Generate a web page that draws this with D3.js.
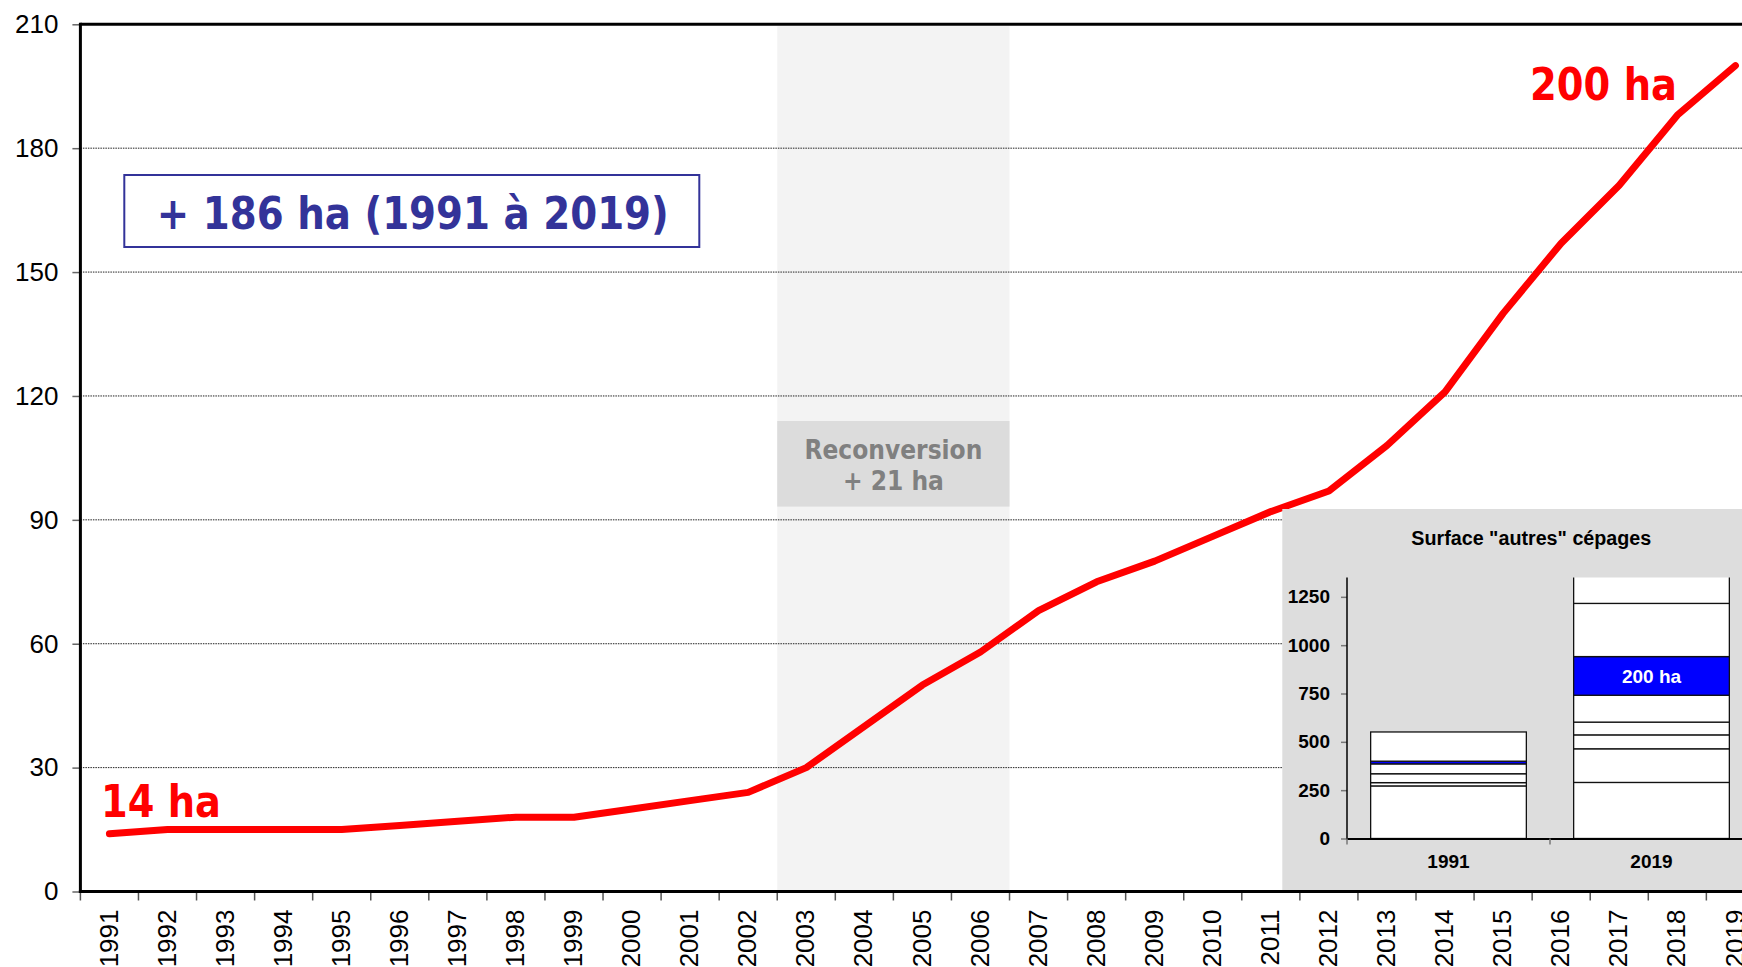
<!DOCTYPE html>
<html><head><meta charset="utf-8">
<script src="https://cdn.jsdelivr.net/npm/d3@7"></script>
<style>body{margin:0;background:#fff;overflow:hidden} svg{display:block}</style>
</head><body>
<svg id="c" width="1742" height="967"></svg>
<script>
// ---------- data ----------
const years = [1991,1992,1993,1994,1995,1996,1997,1998,1999,2000,2001,2002,2003,2004,2005,2006,2007,2008,2009,2010,2011,2012,2013,2014,2015,2016,2017,2018,2019];
const surface = [14,15,15,15,15,16,17,18,18,20,22,24,30,40,50,58,68,75,80,86,92,97,108,121,140,157,171,188,200];
const yTicks = [0,30,60,90,120,150,180,210];
const gridTicks = [30,60,90,120,150,180];
const reconversionYears = [2003,2006];
const startLabel = "14 ha";
const endLabel = "200 ha";
const totalLabel = "+ 186 ha (1991 à 2019)";
const reconvLabel = ["Reconversion", "+ 21 ha"];

const insetTitle = 'Surface "autres" cépages';
const insetCats = ["1991","2019"];
const insetSeg1991 = [272,17,46,51,14,151];
const insetSeg2019 = [290,174,72,66,139,200,275,184];
const insetBlueIndex = [4,5];
const insetTicks = [0,250,500,750,1000,1250];
const insetBlueLabel = "200 ha";

// ---------- layout ----------
const W = 1742, H = 967;
const pLeft = 80.4, pTop = 24.3, pBottom = 891.5, pStep = 58.07;
const svg = d3.select("#c");

const x = d3.scaleBand().domain(years).range([pLeft, pLeft + pStep*years.length]).padding(0);
const y = d3.scaleLinear().domain([0,210]).range([pBottom, pTop]);
const bw = x.bandwidth();

// shaded reconversion band
svg.append("rect")
  .attr("x", x(reconversionYears[0]))
  .attr("y", y(210)+2)
  .attr("width", x(reconversionYears[1]) + bw - x(reconversionYears[0]))
  .attr("height", y(0) - y(210) - 2)
  .attr("fill", "#f3f3f3");

// grid
svg.append("g").selectAll("line").data(gridTicks).join("line")
  .attr("x1", pLeft).attr("x2", W)
  .attr("y1", d => y(d)).attr("y2", d => y(d))
  .attr("stroke", "#222").attr("stroke-width", 1).attr("stroke-dasharray", "1.5,1");

// reconversion box
const rbX = x(reconversionYears[0]), rbW = x(reconversionYears[1]) + bw - x(reconversionYears[0]);
svg.append("rect").attr("x", rbX).attr("y", 421).attr("width", rbW).attr("height", 85.6).attr("fill", "#dcdcdc");
svg.append("text").attr("x", rbX + rbW/2).attr("y", 459).attr("text-anchor","middle")
  .attr("font-family","DejaVu Sans").attr("font-weight","bold").attr("font-size", 27)
  .attr("textLength", 178).attr("lengthAdjust","spacingAndGlyphs")
  .attr("fill","#808080").text(reconvLabel[0]);
svg.append("text").attr("x", rbX + rbW/2).attr("y", 490).attr("text-anchor","middle")
  .attr("font-family","DejaVu Sans").attr("font-weight","bold").attr("font-size", 27)
  .attr("textLength", 101).attr("lengthAdjust","spacingAndGlyphs")
  .attr("fill","#808080").text(reconvLabel[1]);

// top border
svg.append("line").attr("x1", pLeft).attr("x2", W).attr("y1", y(210)).attr("y2", y(210))
  .attr("stroke","#000").attr("stroke-width",3);

// y axis
const yAxis = svg.append("g").attr("transform", `translate(${pLeft},0)`)
  .call(d3.axisLeft(y).tickValues(yTicks).tickSize(8).tickPadding(14));
yAxis.select(".domain").remove();
yAxis.selectAll(".tick line").attr("stroke","#666").attr("stroke-width",1.5);
yAxis.selectAll(".tick text").attr("font-family","Liberation Sans, Arial").attr("font-size",26).attr("fill","#000");
svg.append("line").attr("x1", pLeft).attr("x2", pLeft).attr("y1", pTop-1.5).attr("y2", pBottom+1.5)
  .attr("stroke","#000").attr("stroke-width",3);

// x axis
const xAxis = svg.append("g").attr("transform", `translate(0,${pBottom})`)
  .call(d3.axisBottom(x).tickSize(0).tickPadding(0));
xAxis.select(".domain").remove();
xAxis.selectAll(".tick text")
  .attr("font-family","Liberation Sans, Arial").attr("font-size",26).attr("fill","#000")
  .attr("text-anchor","end")
  .attr("transform","translate(-1,18) rotate(-90)")
  .attr("x",0).attr("y",0).attr("dy","0.35em");
svg.append("g").selectAll("line").data(years.concat([null])).join("line")
  .attr("x1", (d,i) => pLeft + i*x.step()).attr("x2", (d,i) => pLeft + i*x.step())
  .attr("y1", pBottom).attr("y2", pBottom + 9)
  .attr("stroke","#555").attr("stroke-width",1.5);
svg.append("line").attr("x1", pLeft-1.5).attr("x2", W).attr("y1", pBottom).attr("y2", pBottom)
  .attr("stroke","#000").attr("stroke-width",3);

// red line
const line = d3.line().x((d,i) => x(years[i]) + bw/2).y(d => y(d));
svg.append("path").datum(surface).attr("d", line)
  .attr("fill","none").attr("stroke","#ff0000").attr("stroke-width",7)
  .attr("stroke-linecap","round").attr("stroke-linejoin","round");

// ---------- inset ----------
const inset = svg.append("g");
inset.append("rect").attr("x",1282.3).attr("y",509).attr("width", W-1282.3).attr("height",381).attr("fill","#dddddd");
const iy = d3.scaleLinear().domain([0,1350]).range([838.5, 577.5]);
const ix = d3.scaleBand().domain(insetCats).range([1347, 1753]).paddingInner(0.233).paddingOuter(0.1165);

svg.append("defs").append("clipPath").attr("id","insetClip")
  .append("rect").attr("x",1282).attr("y", iy(1350)).attr("width", 500).attr("height", iy(0) - iy(1350) + 2);

const stacks = [insetSeg1991, insetSeg2019].map((segs, ci) => {
  let acc = 0;
  return segs.map((v, si) => { const s = {cat: insetCats[ci], y0: acc, y1: acc + v, blue: si === insetBlueIndex[ci]}; acc += v; return s; });
});
const gBars = inset.append("g").attr("clip-path","url(#insetClip)");
stacks.forEach(st => {
  gBars.append("g").selectAll("rect").data(st).join("rect")
    .attr("x", d => ix(d.cat)).attr("width", ix.bandwidth())
    .attr("y", d => iy(d.y1)).attr("height", d => iy(d.y0) - iy(d.y1))
    .attr("fill", d => d.blue ? "#0000ff" : "#ffffff")
    .attr("stroke","#111").attr("stroke-width",1.3);
});
// blue label
const blueSeg = stacks[1][insetBlueIndex[1]];
inset.append("text").attr("x", ix(insetCats[1]) + ix.bandwidth()/2).attr("y", (iy(blueSeg.y0)+iy(blueSeg.y1))/2)
  .attr("dy","0.36em").attr("text-anchor","middle")
  .attr("font-family","Liberation Sans, Arial").attr("font-weight","bold").attr("font-size",19)
  .attr("fill","#fff").text(insetBlueLabel);

// inset y axis
const iyAxis = inset.append("g").attr("transform","translate(1347,0)")
  .call(d3.axisLeft(iy).tickValues(insetTicks).tickFormat(d3.format("d")).tickSize(6).tickPadding(11));
iyAxis.select(".domain").remove();
iyAxis.selectAll(".tick line").attr("stroke","#777").attr("stroke-width",1.5);
iyAxis.selectAll(".tick text").attr("font-family","Liberation Sans, Arial").attr("font-weight","bold")
  .attr("font-size",19).attr("fill","#000");
inset.append("line").attr("x1",1347).attr("x2",1347).attr("y1", iy(1350)).attr("y2", iy(0)+1)
  .attr("stroke","#000").attr("stroke-width",1.5);

// inset x axis
inset.append("line").attr("x1",1347).attr("x2",W).attr("y1", iy(0)+0.5).attr("y2", iy(0)+0.5)
  .attr("stroke","#000").attr("stroke-width",2);
inset.append("g").selectAll("line").data(insetCats).join("line")
  .attr("x1", d => ix(d) - ix.step()*ix.paddingOuter()).attr("x2", d => ix(d) - ix.step()*ix.paddingOuter())
  .attr("y1", iy(0)).attr("y2", iy(0)+6).attr("stroke","#777").attr("stroke-width",1.5);
inset.append("g").selectAll("text").data(insetCats).join("text")
  .attr("x", d => ix(d) + ix.bandwidth()/2).attr("y", 868)
  .attr("text-anchor","middle")
  .attr("font-family","Liberation Sans, Arial").attr("font-weight","bold").attr("font-size",19)
  .attr("fill","#000").text(d => d);
inset.append("text").attr("x",1531.3).attr("y",545).attr("text-anchor","middle")
  .attr("font-family","Liberation Sans, Arial").attr("font-weight","bold").attr("font-size",19.5)
  .attr("textLength",240).attr("lengthAdjust","spacingAndGlyphs")
  .attr("fill","#000").text(insetTitle);

// ---------- annotations ----------
svg.append("rect").attr("x",124.3).attr("y",175).attr("width",575).attr("height",72)
  .attr("fill","#fff").attr("stroke","#333399").attr("stroke-width",2);
svg.append("text").attr("x", 412.8).attr("y", 229).attr("text-anchor","middle")
  .attr("font-family","DejaVu Sans").attr("font-weight","bold").attr("font-size",45)
  .attr("textLength",512).attr("lengthAdjust","spacingAndGlyphs")
  .attr("fill","#333399").text(totalLabel);
svg.append("text").attr("x", 101).attr("y", 817)
  .attr("font-family","DejaVu Sans").attr("font-weight","bold").attr("font-size",45)
  .attr("textLength",120).attr("lengthAdjust","spacingAndGlyphs")
  .attr("fill","#ff0000").text(startLabel);
svg.append("text").attr("x", 1530).attr("y", 100)
  .attr("font-family","DejaVu Sans").attr("font-weight","bold").attr("font-size",45)
  .attr("textLength",147).attr("lengthAdjust","spacingAndGlyphs")
  .attr("fill","#ff0000").text(endLabel);
</script>
</body></html>
